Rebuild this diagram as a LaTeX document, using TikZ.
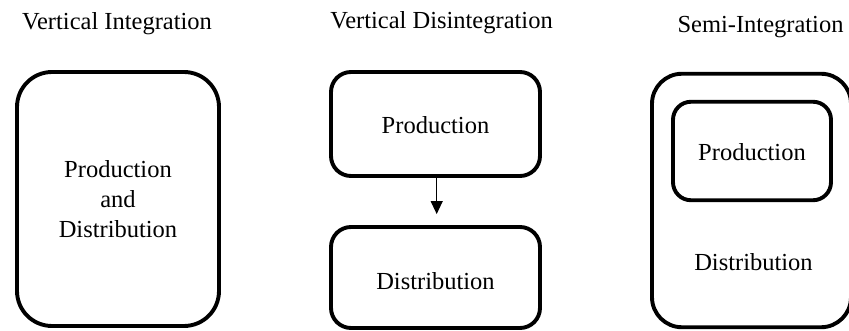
\documentclass[tikz,border=0pt]{standalone}
\usepackage{fontspec}
\setmainfont{Liberation Serif}
\usetikzlibrary{arrows.meta}
\begin{document}
\begin{tikzpicture}[x=1pt,y=-1pt,
  boxst/.style={draw=black,line width=3.9pt,rounded corners=#1,inner sep=0pt},
  txt/.style={font=\fontsize{24.5}{29.5}\selectfont,inner sep=0pt,anchor=base},
  conn/.style={-{Triangle[width=12pt,length=13pt]},line width=1.2pt,shorten >=11pt}]
\useasboundingbox (0,0) rectangle (849,331);
% titles
\node[txt] (t1) at (117,30) {Vertical Integration};
\node[txt] (t2) at (441.5,28.5) {Vertical Disintegration};
\node[txt] (t3) at (760.5,33) {Semi-Integration};
% box 1
\node[boxst=35pt,minimum width=202pt,minimum height=254pt] (b1) at (118,199) {};
\node[txt] (b1a) at (118,178) {Production};
\node[txt] (b1b) at (118,208) {and};
\node[txt] (b1c) at (118,237.5) {Distribution};
% boxes 2 and 3
\node[boxst=20pt,minimum width=209pt,minimum height=104pt] (b2) at (435.5,124) {};
\node[txt] (b2t) at (435.5,133.3) {Production};
\node[boxst=20pt,minimum width=209pt,minimum height=101pt] (b3) at (435.5,277.5) {};
\node[txt] (b3t) at (435.5,289.5) {Distribution};
\draw[conn] (b2.south -| 436.7,0) -- (b3.north -| 436.7,0);
% box 4
\node[boxst=30pt,minimum width=199pt,minimum height=253.5pt] (b4) at (751.5,200.5) {};
\node[boxst=18pt,minimum width=158pt,minimum height=98.5pt] (b5) at (752,151) {};
\node[txt] (b5t) at (752,160.5) {Production};
\node[txt] (b4t) at (753.5,270.5) {Distribution};
\end{tikzpicture}
\end{document}
